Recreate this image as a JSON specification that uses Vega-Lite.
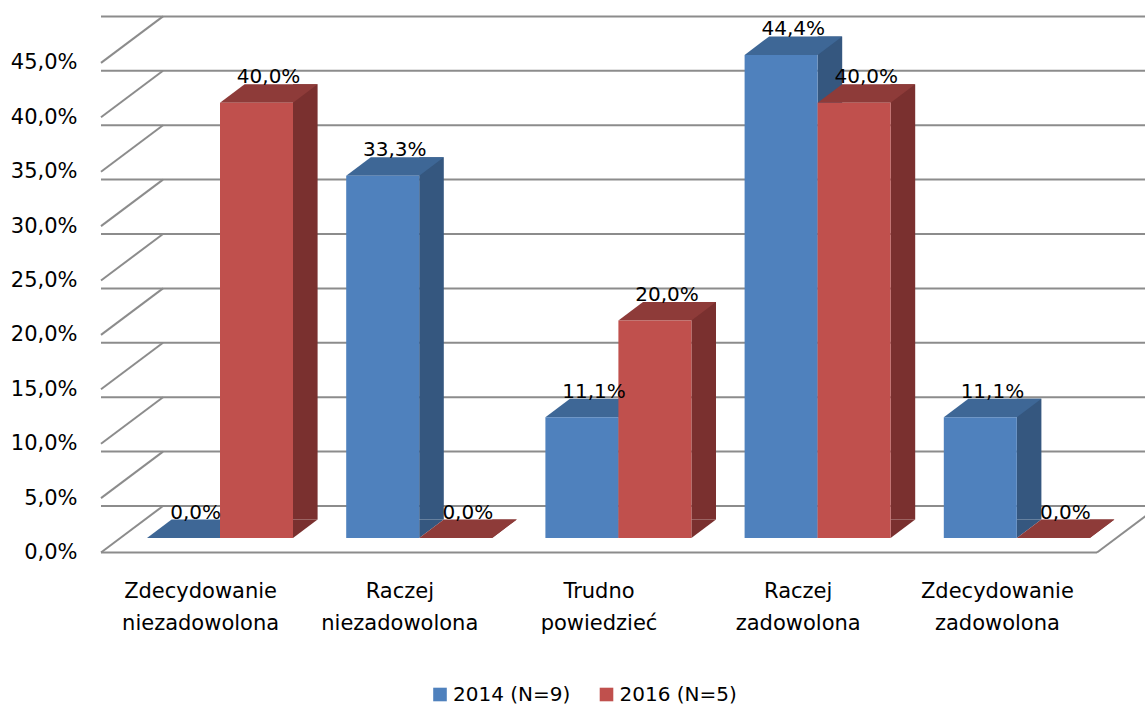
{
  "$schema": "https://vega.github.io/schema/vega-lite/v6.json",
  "width": 996,
  "height": 544,
  "autosize": {"type": "none"},
  "padding": {"left": 101, "top": 8.5, "right": 48, "bottom": 151.5},
  "background": "white",
  "config": {
    "locale": {"number": {"decimal": ",", "thousands": " ", "grouping": [3], "currency": ["", " zł"]}},
    "view": {"stroke": null},
    "font": "DejaVu Sans",
    "axisX": {"title": null, "domain": false, "ticks": false, "grid": false, "labelAngle": 0, "labelPadding": 28, "labelFontSize": 21, "labelFont": "DejaVu Sans", "labelLineHeight": 31.5, "labelBaseline": "top", "labelColor": "#000000", "labelOverlap": false, "labelLimit": 300},
    "axisY": {"title": null, "domain": false, "ticks": false, "grid": false, "labelPadding": 24, "labelFontSize": 21, "labelFont": "DejaVu Sans", "labelColor": "#000000"}
  },
  "data": {
    "values": [
      {"cat": "Zdecydowanie niezadowolona", "series": "2014 (N=9)", "value": 0.0},
      {"cat": "Zdecydowanie niezadowolona", "series": "2016 (N=5)", "value": 0.4},
      {"cat": "Raczej niezadowolona", "series": "2014 (N=9)", "value": 0.333},
      {"cat": "Raczej niezadowolona", "series": "2016 (N=5)", "value": 0.0},
      {"cat": "Trudno powiedzieć", "series": "2014 (N=9)", "value": 0.111},
      {"cat": "Trudno powiedzieć", "series": "2016 (N=5)", "value": 0.2},
      {"cat": "Raczej zadowolona", "series": "2014 (N=9)", "value": 0.444},
      {"cat": "Raczej zadowolona", "series": "2016 (N=5)", "value": 0.4},
      {"cat": "Zdecydowanie zadowolona", "series": "2014 (N=9)", "value": 0.111},
      {"cat": "Zdecydowanie zadowolona", "series": "2016 (N=5)", "value": 0.0}
    ]
  },
  "layer": [
    {
      "data": {"values": [{"v": 0}, {"v": 0.05}, {"v": 0.1}, {"v": 0.15}, {"v": 0.2}, {"v": 0.25}, {"v": 0.3}, {"v": 0.35}, {"v": 0.4}, {"v": 0.45}]},
      "mark": {"type": "rule", "color": "#8C8C8C", "strokeWidth": 2, "xOffset": 62, "x2Offset": 62, "yOffset": -46.5},
      "encoding": {
        "y": {"field": "v", "type": "quantitative", "scale": {"domain": [0, 0.5], "nice": false},
              "axis": {"title": null, "values": [0, 0.05, 0.1, 0.15, 0.2, 0.25, 0.3, 0.35, 0.4, 0.45], "format": ".1%"}}
      }
    },
    {
      "data": {"values": [{"v": 0}, {"v": 0.05}, {"v": 0.1}, {"v": 0.15}, {"v": 0.2}, {"v": 0.25}, {"v": 0.3}, {"v": 0.35}, {"v": 0.4}, {"v": 0.45}]},
      "mark": {"type": "rule", "color": "#8C8C8C", "strokeWidth": 2, "x2Offset": 62, "y2Offset": -46.5},
      "encoding": {
        "x": {"datum": "Zdecydowanie niezadowolona", "type": "nominal", "bandPosition": 0,
              "scale": {"domain": ["Zdecydowanie niezadowolona", "Raczej niezadowolona", "Trudno powiedzieć", "Raczej zadowolona", "Zdecydowanie zadowolona"], "paddingInner": 0, "paddingOuter": 0},
              "axis": {"title": null, "labelExpr": "split(datum.label, ' ')"}},
        "x2": {"datum": "Zdecydowanie niezadowolona", "bandPosition": 0},
        "y": {"field": "v", "type": "quantitative", "axis": {"title": null, "values": [0, 0.05, 0.1, 0.15, 0.2, 0.25, 0.3, 0.35, 0.4, 0.45], "format": ".1%"}},
        "y2": {"field": "v"}
      }
    },
    {
      "data": {"values": [{"v": 0}]},
      "mark": {"type": "rule", "color": "#8C8C8C", "strokeWidth": 2},
      "encoding": {
        "y": {"field": "v", "type": "quantitative", "axis": {"title": null, "values": [0, 0.05, 0.1, 0.15, 0.2, 0.25, 0.3, 0.35, 0.4, 0.45], "format": ".1%"}}
      }
    },
    {
      "data": {"values": [{"v": 0}]},
      "mark": {"type": "rule", "color": "#8C8C8C", "strokeWidth": 2, "x2Offset": 62, "y2Offset": -46.5},
      "encoding": {
        "x": {"datum": "Zdecydowanie zadowolona", "type": "nominal", "bandPosition": 1,
              "axis": {"title": null, "labelExpr": "split(datum.label, ' ')"}},
        "x2": {"datum": "Zdecydowanie zadowolona", "bandPosition": 1},
        "y": {"field": "v", "type": "quantitative", "axis": {"title": null, "values": [0, 0.05, 0.1, 0.15, 0.2, 0.25, 0.3, 0.35, 0.4, 0.45], "format": ".1%"}},
        "y2": {"field": "v"}
      }
    },
    {
      "transform": [{"filter": "datum.series === '2014 (N=9)'"}],
      "mark": {"type": "bar", "width": 24.6, "xOffset": 31.7, "yOffset": -33, "y2Offset": -33, "color": "#35577F"},
      "encoding": {
        "x": {"field": "cat", "type": "nominal", "axis": {"title": null, "labelExpr": "split(datum.label, ' ')"}},
        "y": {"field": "value", "type": "quantitative", "stack": null, "axis": {"title": null, "values": [0, 0.05, 0.1, 0.15, 0.2, 0.25, 0.3, 0.35, 0.4, 0.45], "format": ".1%"}},
        "y2": {"datum": 0}
      }
    },
    {
      "transform": [{"filter": "datum.series === '2014 (N=9)'"}],
      "mark": {"type": "point", "shape": "M0,0L0,-0.37L0.492,-0.37Z", "size": 10000, "filled": true, "opacity": 1, "strokeWidth": 0, "color": "#35577F", "xOffset": 19.4, "yOffset": -14.5},
      "encoding": {
        "x": {"field": "cat", "type": "nominal", "axis": {"title": null, "labelExpr": "split(datum.label, ' ')"}},
        "y": {"datum": 0, "type": "quantitative", "axis": {"title": null, "values": [0, 0.05, 0.1, 0.15, 0.2, 0.25, 0.3, 0.35, 0.4, 0.45], "format": ".1%"}}
      }
    },
    {
      "transform": [{"filter": "datum.series === '2014 (N=9)'"}],
      "mark": {"type": "point", "shape": "M0,0L1.46,0L1.952,-0.37L0.492,-0.37Z", "size": 10000, "filled": true, "opacity": 1, "strokeWidth": 0, "color": "#3E6796", "xOffset": -53.6, "yOffset": -14.5},
      "encoding": {
        "x": {"field": "cat", "type": "nominal", "axis": {"title": null, "labelExpr": "split(datum.label, ' ')"}},
        "y": {"field": "value", "type": "quantitative", "axis": {"title": null, "values": [0, 0.05, 0.1, 0.15, 0.2, 0.25, 0.3, 0.35, 0.4, 0.45], "format": ".1%"}}
      }
    },
    {
      "transform": [{"filter": "datum.series === '2016 (N=5)'"}],
      "mark": {"type": "bar", "width": 24.6, "xOffset": 104.7, "yOffset": -33, "y2Offset": -33, "color": "#7A302F"},
      "encoding": {
        "x": {"field": "cat", "type": "nominal", "axis": {"title": null, "labelExpr": "split(datum.label, ' ')"}},
        "y": {"field": "value", "type": "quantitative", "stack": null, "axis": {"title": null, "values": [0, 0.05, 0.1, 0.15, 0.2, 0.25, 0.3, 0.35, 0.4, 0.45], "format": ".1%"}},
        "y2": {"datum": 0}
      }
    },
    {
      "transform": [{"filter": "datum.series === '2016 (N=5)'"}],
      "mark": {"type": "point", "shape": "M0,0L0,-0.37L0.492,-0.37Z", "size": 10000, "filled": true, "opacity": 1, "strokeWidth": 0, "color": "#7A302F", "xOffset": 92.4, "yOffset": -14.5},
      "encoding": {
        "x": {"field": "cat", "type": "nominal", "axis": {"title": null, "labelExpr": "split(datum.label, ' ')"}},
        "y": {"datum": 0, "type": "quantitative", "axis": {"title": null, "values": [0, 0.05, 0.1, 0.15, 0.2, 0.25, 0.3, 0.35, 0.4, 0.45], "format": ".1%"}}
      }
    },
    {
      "transform": [{"filter": "datum.series === '2016 (N=5)'"}],
      "mark": {"type": "point", "shape": "M0,0L1.46,0L1.952,-0.37L0.492,-0.37Z", "size": 10000, "filled": true, "opacity": 1, "strokeWidth": 0, "color": "#8E3B39", "xOffset": 19.4, "yOffset": -14.5},
      "encoding": {
        "x": {"field": "cat", "type": "nominal", "axis": {"title": null, "labelExpr": "split(datum.label, ' ')"}},
        "y": {"field": "value", "type": "quantitative", "axis": {"title": null, "values": [0, 0.05, 0.1, 0.15, 0.2, 0.25, 0.3, 0.35, 0.4, 0.45], "format": ".1%"}}
      }
    },
    {
      "transform": [{"filter": "datum.series === '2014 (N=9)'"}],
      "mark": {"type": "bar", "width": 73, "xOffset": -17.1, "yOffset": -14.5, "y2Offset": -14.5},
      "encoding": {
        "x": {"field": "cat", "type": "nominal",
              "scale": {"domain": ["Zdecydowanie niezadowolona", "Raczej niezadowolona", "Trudno powiedzieć", "Raczej zadowolona", "Zdecydowanie zadowolona"], "paddingInner": 0, "paddingOuter": 0},
              "axis": {"title": null, "labelExpr": "split(datum.label, ' ')"}},
        "y": {"field": "value", "type": "quantitative", "stack": null,
              "axis": {"title": null, "values": [0, 0.05, 0.1, 0.15, 0.2, 0.25, 0.3, 0.35, 0.4, 0.45], "format": ".1%"}},
        "y2": {"datum": 0},
        "color": {"field": "series", "type": "nominal",
                  "scale": {"domain": ["2014 (N=9)", "2016 (N=5)"], "range": ["#4F81BD", "#C0504D"]},
                  "legend": {"orient": "none", "legendX": 329, "legendY": 676, "direction": "horizontal", "title": null, "symbolType": "square", "symbolSize": 185, "symbolStrokeWidth": 0, "labelFontSize": 20, "labelFont": "DejaVu Sans", "labelColor": "#000000", "columnPadding": 25.5, "labelOffset": 3, "padding": 0}}
      }
    },
    {
      "transform": [{"filter": "datum.series === '2016 (N=5)'"}],
      "mark": {"type": "bar", "width": 73, "xOffset": 55.9, "yOffset": -14.5, "y2Offset": -14.5},
      "encoding": {
        "x": {"field": "cat", "type": "nominal", "axis": {"title": null, "labelExpr": "split(datum.label, ' ')"}},
        "y": {"field": "value", "type": "quantitative", "stack": null, "axis": {"title": null, "values": [0, 0.05, 0.1, 0.15, 0.2, 0.25, 0.3, 0.35, 0.4, 0.45], "format": ".1%"}},
        "y2": {"datum": 0},
        "color": {"field": "series", "type": "nominal",
                  "legend": {"orient": "none", "legendX": 329, "legendY": 676, "direction": "horizontal", "title": null, "symbolType": "square", "symbolSize": 185, "symbolStrokeWidth": 0, "labelFontSize": 20, "labelFont": "DejaVu Sans", "labelColor": "#000000", "columnPadding": 25.5, "labelOffset": 3, "padding": 0}}
      }
    },
    {
      "transform": [{"filter": "datum.series === '2014 (N=9)'"}],
      "mark": {"type": "text", "fontSize": 20, "font": "DejaVu Sans", "color": "#000000", "baseline": "alphabetic", "align": "center", "xOffset": -5, "yOffset": -34},
      "encoding": {
        "x": {"field": "cat", "type": "nominal", "axis": {"title": null, "labelExpr": "split(datum.label, ' ')"}},
        "y": {"field": "value", "type": "quantitative", "axis": {"title": null, "values": [0, 0.05, 0.1, 0.15, 0.2, 0.25, 0.3, 0.35, 0.4, 0.45], "format": ".1%"}},
        "text": {"field": "value", "type": "quantitative", "format": ".1%"}
      }
    },
    {
      "transform": [{"filter": "datum.series === '2016 (N=5)'"}],
      "mark": {"type": "text", "fontSize": 20, "font": "DejaVu Sans", "color": "#000000", "baseline": "alphabetic", "align": "center", "xOffset": 68, "yOffset": -34},
      "encoding": {
        "x": {"field": "cat", "type": "nominal", "axis": {"title": null, "labelExpr": "split(datum.label, ' ')"}},
        "y": {"field": "value", "type": "quantitative", "axis": {"title": null, "values": [0, 0.05, 0.1, 0.15, 0.2, 0.25, 0.3, 0.35, 0.4, 0.45], "format": ".1%"}},
        "text": {"field": "value", "type": "quantitative", "format": ".1%"}
      }
    }
  ]
}
